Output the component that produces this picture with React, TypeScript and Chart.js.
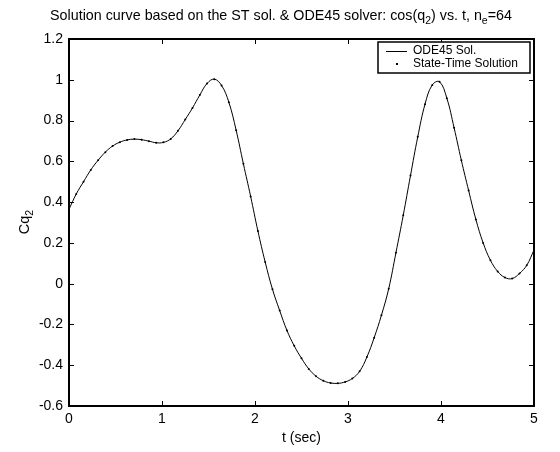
import React, { useEffect, useRef } from "react";
import { Chart, registerables } from "chart.js";

Chart.register(...registerables);

// time nodes (n_e = 64 elements -> 65 nodes)
const timeSec = [
  0, 0.0781, 0.1563, 0.2344, 0.3125, 0.3906, 0.4688, 0.5469, 0.625, 0.7031,
  0.7813, 0.8594, 0.9375, 1.0156, 1.0938, 1.1719, 1.25, 1.3281, 1.4063, 1.4844,
  1.5625, 1.6406, 1.7188, 1.7969, 1.875, 1.9531, 2.0313, 2.1094, 2.1875, 2.2656,
  2.3438, 2.4219, 2.5, 2.5781, 2.6563, 2.7344, 2.8125, 2.8906, 2.9688, 3.0469,
  3.125, 3.2031, 3.2813, 3.3594, 3.4375, 3.5156, 3.5938, 3.6719, 3.75, 3.8281,
  3.9063, 3.9844, 4.0625, 4.1406, 4.2188, 4.2969, 4.375, 4.4531, 4.5313, 4.6094,
  4.6875, 4.7656, 4.8438, 4.9219, 5,
];

// ODE45 solution, cos(q2)
const ode45Sol = [
  0.365, 0.44, 0.5, 0.558, 0.605, 0.645, 0.675, 0.694, 0.705, 0.709,
  0.706, 0.699, 0.691, 0.693, 0.71, 0.75, 0.805, 0.862, 0.925, 0.982,
  1.003, 0.972, 0.89, 0.753, 0.588, 0.428, 0.258, 0.106, -0.027, -0.132,
  -0.23, -0.305, -0.366, -0.418, -0.454, -0.476, -0.487, -0.489, -0.482, -0.465,
  -0.43, -0.36, -0.265, -0.155, -0.025, 0.152, 0.335, 0.53, 0.72, 0.88,
  0.975, 0.99, 0.91, 0.765, 0.605, 0.457, 0.315, 0.2, 0.115, 0.06,
  0.03, 0.025, 0.05, 0.09, 0.165,
];

// State-Time solution at the element nodes
const stateTimeSol = [
  0.365, 0.44, 0.5, 0.558, 0.605, 0.645, 0.675, 0.694, 0.705, 0.709,
  0.706, 0.699, 0.691, 0.693, 0.71, 0.75, 0.805, 0.862, 0.925, 0.982,
  1.003, 0.972, 0.89, 0.753, 0.588, 0.428, 0.258, 0.106, -0.027, -0.132,
  -0.23, -0.305, -0.366, -0.418, -0.454, -0.476, -0.487, -0.489, -0.482, -0.465,
  -0.43, -0.36, -0.265, -0.155, -0.025, 0.152, 0.335, 0.53, 0.72, 0.88,
  0.975, 0.99, 0.91, 0.765, 0.605, 0.457, 0.315, 0.2, 0.115, 0.06,
  0.03, 0.025, 0.05, 0.09, 0.165,
];

const xTicks = [0, 1, 2, 3, 4, 5];
const yTicks = [-0.6, -0.4, -0.2, 0, 0.2, 0.4, 0.6, 0.8, 1, 1.2];
const yTickLabels = ["-0.6", "-0.4", "-0.2", "0", "0.2", "0.4", "0.6", "0.8", "1", "1.2"];

const legendLabels = ["ODE45 Sol.", "State-Time Solution"];
const xTitle = "t (sec)";

const FONT = '"Liberation Sans", Arial, Helvetica, sans-serif';

export default function App() {
  const ref = useRef<HTMLCanvasElement>(null);

  useEffect(() => {
    const canvas = ref.current;
    if (!canvas) return;

    const drawRich = (
      ctx: CanvasRenderingContext2D,
      parts: { t: string; sub?: boolean }[],
      x: number,
      y: number,
      size: number,
      subSize: number,
      subDy: number
    ) => {
      let cx = x;
      for (const p of parts) {
        ctx.font = `${p.sub ? subSize : size}px ${FONT}`;
        ctx.fillText(p.t, cx, p.sub ? y + subDy : y);
        cx += ctx.measureText(p.t).width;
      }
      return cx - x;
    };
    const measureRich = (
      ctx: CanvasRenderingContext2D,
      parts: { t: string; sub?: boolean }[],
      size: number,
      subSize: number
    ) => {
      let w = 0;
      for (const p of parts) {
        ctx.font = `${p.sub ? subSize : size}px ${FONT}`;
        w += ctx.measureText(p.t).width;
      }
      return w;
    };

    const matlabPlugin = {
      id: "matlabFrame",
      afterDraw(chart: any) {
        const ctx: CanvasRenderingContext2D = chart.ctx;
        const { left, right, top, bottom } = chart.chartArea;
        const xs = chart.scales.x;
        const ys = chart.scales.y;
        ctx.save();
        ctx.strokeStyle = "#000";
        ctx.fillStyle = "#000";

        // inward ticks
        ctx.lineWidth = 1;
        ctx.beginPath();
        for (const v of xTicks) {
          const px = Math.round(xs.getPixelForValue(v)) + 0.5;
          ctx.moveTo(px, bottom);
          ctx.lineTo(px, bottom - 5);
          ctx.moveTo(px, top);
          ctx.lineTo(px, top + 5);
        }
        for (const v of yTicks) {
          const py = Math.round(ys.getPixelForValue(v)) + 0.5;
          ctx.moveTo(left, py);
          ctx.lineTo(left + 5, py);
          ctx.moveTo(right, py);
          ctx.lineTo(right - 5, py);
        }
        ctx.stroke();

        // box
        ctx.lineWidth = 2;
        ctx.strokeRect(left, top, right - left, bottom - top);

        // legend
        const lx0 = 378, ly0 = 42, lx1 = 530, ly1 = 73;
        ctx.fillStyle = "#fff";
        ctx.fillRect(lx0, ly0, lx1 - lx0, ly1 - ly0);
        ctx.lineWidth = 1.5;
        ctx.strokeStyle = "#000";
        ctx.strokeRect(lx0, ly0, lx1 - lx0, ly1 - ly0);
        ctx.lineWidth = 1;
        ctx.beginPath();
        ctx.moveTo(386, 51.5);
        ctx.lineTo(407, 51.5);
        ctx.stroke();
        ctx.fillStyle = "#000";
        ctx.fillRect(396, 63, 2, 2);
        ctx.font = `12px ${FONT}`;
        ctx.textBaseline = "middle";
        ctx.textAlign = "left";
        ctx.fillText(legendLabels[0], 413, 51);
        ctx.fillText(legendLabels[1], 413, 64);

        // title
        const titleParts = [
          { t: "Solution curve based on the ST sol. & ODE45 solver: cos(q" },
          { t: "2", sub: true },
          { t: ") vs. t, n" },
          { t: "e", sub: true },
          { t: "=64" },
        ];
        ctx.textBaseline = "alphabetic";
        const tw = measureRich(ctx, titleParts, 14.3, 10.5);
        drawRich(ctx, titleParts, 281 - tw / 2, 20, 14.3, 10.5, 4);

        // x title
        ctx.font = `14px ${FONT}`;
        ctx.textAlign = "center";
        ctx.textBaseline = "middle";
        ctx.fillText(xTitle, (left + right) / 2, 438);

        // y title Cq2 rotated
        ctx.save();
        ctx.translate(29, 222);
        ctx.rotate(-Math.PI / 2);
        ctx.textAlign = "left";
        ctx.textBaseline = "alphabetic";
        const yParts = [{ t: "Cq" }, { t: "2", sub: true }];
        const yw = measureRich(ctx, yParts, 14.5, 10.5);
        drawRich(ctx, yParts, -yw / 2, 0, 14.5, 10.5, 4);
        ctx.restore();

        ctx.restore();
      },
    };

    const chart = new Chart(canvas, {
      type: "line",
      data: {
        datasets: [
          {
            label: legendLabels[1],
            data: timeSec.map((t, i) => ({ x: t, y: stateTimeSol[i] })),
            showLine: false,
            pointRadius: 1,
            pointBackgroundColor: "#000",
            pointBorderColor: "#000",
            pointBorderWidth: 0,
            order: 0,
          },
          {
            label: legendLabels[0],
            data: timeSec.map((t, i) => ({ x: t, y: ode45Sol[i] })),
            borderColor: "#000",
            borderWidth: 1,
            pointRadius: 0,
            tension: 0.4,
            fill: false,
            order: 1,
          },
        ],
      },
      options: {
        responsive: false,
        animation: false,
        devicePixelRatio: 1,
        layout: { padding: { top: 39, right: 26, left: 0, bottom: 0 } },
        plugins: {
          legend: { display: false },
          title: { display: false },
          tooltip: { enabled: false },
        },
        scales: {
          x: {
            type: "linear",
            min: 0,
            max: 5,
            afterFit: (s: any) => {
              s.height = 46;
            },
            afterBuildTicks: (s: any) => {
              s.ticks = xTicks.map((v) => ({ value: v }));
            },
            grid: { display: false, drawTicks: false },
            border: { display: false },
            ticks: {
              color: "#000",
              font: { family: FONT, size: 14 },
              padding: 5,
              maxRotation: 0,
              callback: (v: any) => String(v),
            },
          },
          y: {
            type: "linear",
            min: -0.6,
            max: 1.2,
            afterFit: (s: any) => {
              s.width = 69;
            },
            afterBuildTicks: (s: any) => {
              s.ticks = yTicks.map((v) => ({ value: v }));
            },
            grid: { display: false, drawTicks: false },
            border: { display: false },
            ticks: {
              color: "#000",
              font: { family: FONT, size: 14 },
              padding: 6,
              callback: (v: any) => {
                const i = yTicks.findIndex((t) => Math.abs(t - Number(v)) < 1e-6);
                return i >= 0 ? yTickLabels[i] : "";
              },
            },
          },
        },
      },
      plugins: [matlabPlugin],
    });

    return () => chart.destroy();
  }, []);

  return (
    <div
      style={{
        position: "fixed",
        left: 0,
        top: 0,
        width: 560,
        height: 452,
        background: "#fff",
      }}
    >
      <canvas ref={ref} width={560} height={452} style={{ display: "block" }} />
    </div>
  );
}
